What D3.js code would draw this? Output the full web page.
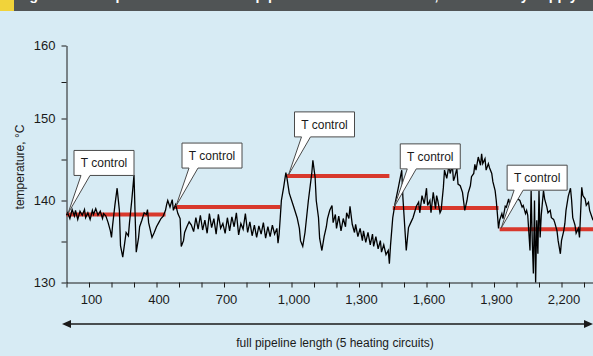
<!DOCTYPE html>
<html>
<head>
<meta charset="utf-8">
<script src="https://cdn.jsdelivr.net/npm/d3@7"></script>
<style>
  body { margin: 0; background: #d7ebf4; }
  svg { display: block; font-family: 'Liberation Sans', Arial, sans-serif; }
</style>
</head>
<body>
<svg id="chart" width="593" height="356"></svg>
<script>
// measured temperature along the pipeline (m, °C)
const distance = [
  0, 5, 15, 25, 35, 40, 50, 60, 70, 80, 85, 95, 105, 115, 120, 130, 140, 150, 160, 165, 175, 185, 195, 200, 205, 215, 225, 235, 240, 250,
  255, 265, 275, 280, 290, 300, 305, 310, 320, 325, 335, 345, 355, 360, 365, 380, 390, 400, 410, 420, 430, 440, 445, 450, 460, 470, 475, 485, 495, 505,
  510, 520, 525, 535, 545, 555, 565, 575, 585, 595, 605, 615, 625, 635, 645, 655, 665, 675, 685, 695, 705, 715, 725, 735, 745, 755, 765, 775, 785, 795,
  805, 815, 825, 835, 845, 855, 865, 875, 885, 895, 905, 915, 925, 935, 940, 945,
  950, 955, 965, 975, 980, 990, 1010, 1025, 1035, 1040, 1050, 1060, 1075, 1090, 1095, 1105, 1110, 1120, 1125, 1135, 1145, 1155, 1160, 1170, 1180, 1185,
  1195, 1200, 1210, 1220, 1230, 1240, 1245, 1255, 1260, 1270, 1280, 1285, 1295, 1305, 1315, 1320, 1330, 1340, 1350, 1360, 1365, 1375, 1385, 1395, 1400,
  1410, 1420, 1430, 1435, 1440, 1450,
  1460, 1475, 1490, 1495, 1510, 1520, 1530, 1540, 1555, 1565, 1570, 1580, 1590, 1600, 1605, 1615, 1620, 1630, 1640, 1645, 1650, 1660, 1665, 1675, 1680,
  1690, 1700, 1705, 1715, 1720, 1725, 1735, 1740, 1750, 1760, 1770, 1780, 1785, 1795, 1800, 1810, 1815, 1820, 1830, 1840, 1845, 1850, 1860, 1865, 1875,
  1880, 1890, 1895, 1905, 1910, 1915, 1920,
  1925, 1935, 1940, 1950, 1955, 1965, 1970, 1980, 1985, 1995, 2000, 2005, 2015, 2025, 2030, 2040, 2045, 2050, 2060, 2065, 2070, 2075, 2080, 2085, 2090,
  2095, 2100, 2105, 2110, 2120, 2125, 2135, 2140, 2150, 2155, 2165, 2170, 2180, 2185, 2195, 2200, 2210, 2215, 2220, 2230, 2240, 2245, 2250, 2260, 2265,
  2275, 2280, 2290, 2295, 2305, 2310, 2320, 2325, 2340
];
const temperature = [
  138.2, 138.5, 137.8, 138.9, 138.1, 138.8, 137.7, 138.7, 138.2, 138.9, 137.9, 138.5, 137.7, 138.8, 138.3, 139.0, 138.2, 138.7, 137.8, 138.4, 138.1, 137.3, 136.3, 135.5, 137.0, 139.4, 141.5, 138.8, 134.5, 133.1,
  134.1, 136.1, 135.7, 137.3, 140.0, 143.1, 138.2, 133.7, 135.4, 136.8, 137.6, 138.5, 138.3, 138.9, 137.3, 135.5, 136.1, 136.8, 137.3, 137.8, 138.1, 138.8, 139.5, 140.0, 139.2, 140.1, 138.8, 139.5, 138.4, 137.8,
  134.4, 135.1, 136.1, 136.8, 137.4, 137.0, 136.2, 137.9, 136.5, 138.2, 136.4, 137.6, 136.0, 138.4, 136.7, 137.8, 135.9, 138.3, 136.6, 137.2, 136.0, 137.9, 136.3, 138.0, 136.8, 138.5, 135.8, 137.2, 136.5, 138.4,
  136.1, 137.4, 135.7, 137.0, 135.5, 136.9, 135.9, 137.3, 135.4, 136.8, 135.6, 137.0, 135.9, 136.6, 134.8, 135.9,
  137.9, 140.0, 141.6, 143.4, 142.7, 140.9, 139.2, 137.9, 136.6, 135.1, 134.4, 136.1, 140.0, 143.3, 144.9, 142.8, 140.0, 137.9, 135.4, 133.9, 135.6, 136.8, 137.8, 138.8, 139.4, 137.3,
  138.3, 136.6, 138.1, 136.3, 137.8, 136.8, 138.5, 137.8, 139.3, 137.1, 136.1, 137.1, 135.6, 136.6, 135.1, 136.3, 134.9, 136.1, 134.6, 135.9, 134.4, 135.6, 134.1, 135.1, 133.7,
  134.6, 133.4, 133.9, 132.3, 134.5, 137.9,
  139.6, 141.6, 143.7, 140.4, 133.9, 136.7, 137.3, 137.9, 139.3, 139.8, 138.5, 140.6, 139.6, 141.5, 139.4, 140.0, 138.5, 141.0, 139.0, 140.6, 140.0, 138.5, 138.8, 141.6, 143.7,
  142.7, 144.3, 143.3, 144.2, 142.4, 142.8, 143.9, 142.0, 141.8, 141.0, 138.8, 140.0, 140.9, 141.8, 142.9, 143.3, 144.4, 143.7, 145.3, 144.3, 145.7, 144.5, 145.1, 143.7, 144.5,
  144.0, 143.3, 142.3, 141.2, 140.0, 138.4, 136.6,
  137.6, 138.4, 137.8, 139.3, 139.2, 140.2, 139.5, 140.0, 140.6, 139.9, 140.9, 140.2, 140.0, 139.2, 139.4, 138.4, 138.8, 138.2, 133.9, 141.2, 135.1, 131.1, 140.0, 130.0, 137.6,
  133.5, 141.2, 135.5, 138.2, 141.2, 140.2, 139.2, 138.5, 138.8, 137.9, 137.7, 137.3, 136.3, 135.1, 133.5, 135.1, 136.3, 137.2, 138.8, 140.5, 141.5, 140.0, 137.9, 137.0, 136.0,
  136.6, 135.5, 141.6, 140.6, 140.2, 139.4, 139.8, 138.8, 137.6
];

// set points of the 5 heating circuits
const setStart = [0, 480, 980, 1450, 1925];
const setEnd = [440, 950, 1435, 1920, 2340];
const setTemp = [138.3, 139.2, 143.0, 139.1, 136.5];
const calloutText = 'T control';

const xTicks = d3.range(0, 2301, 100);
const xLabels = [100, 400, 700, 1000, 1300, 1600, 1900, 2200];
const yTicks = [130, 135, 140, 145, 150, 155, 160];
const yLabels = [130, 140, 150, 160];

// caption sits above the crop, only its descenders show
const title = 'Figure 12: Temperature control of a pipeline heated in sections, measured by supply';

const svg = d3.select('#chart');
const width = +svg.attr('width');

// header strip
svg.append('rect').attr('x', 0).attr('y', 0).attr('width', width).attr('height', 11).attr('fill', '#505455');
svg.append('rect').attr('x', 0).attr('y', 0).attr('width', 14).attr('height', 11).attr('fill', '#f1d33a');
svg.append('text')
  .attr('x', 17).attr('y', 0)
  .attr('fill', '#fff')
  .style('font-size', '14px')
  .style('font-weight', 'bold')
  .text(title);

const x = d3.scaleLinear().domain([0, 2340]).range([66.5, 593]);
// the printed y axis is not quite even above 150
const y = d3.scaleLinear().domain([130, 150, 160]).range([282.5, 118.5, 45.5]);

const xAxis = d3.axisBottom(x)
  .tickValues(xTicks)
  .tickSize(5)
  .tickSizeOuter(0)
  .tickPadding(7)
  .tickFormat(function (d) {
    return xLabels.indexOf(d) >= 0 ? d3.format(',')(d) : '';
  });

const yAxis = d3.axisLeft(y)
  .tickValues(yTicks)
  .tickSize(5)
  .tickSizeOuter(0)
  .tickPadding(6)
  .tickFormat(function (d) {
    return yLabels.indexOf(d) >= 0 ? d : '';
  });

const gx = svg.append('g')
  .attr('transform', 'translate(0,' + y(130) + ')')
  .call(xAxis);
gx.selectAll('text').attr('dx', 2);

const gy = svg.append('g')
  .attr('transform', 'translate(' + x(0) + ',0)')
  .call(yAxis);

svg.selectAll('.domain, .tick line').attr('stroke', '#1a1a1a');
svg.selectAll('.tick text').attr('fill', '#1a1a1a').style('font-size', '13px').style('font-family', 'Liberation Sans, Arial, sans-serif');

// set point lines
const idx = d3.range(setStart.length);
svg.append('g').selectAll('line')
  .data(idx)
  .enter().append('line')
  .attr('x1', function (i) { return x(setStart[i]); })
  .attr('x2', function (i) { return x(setEnd[i]); })
  .attr('y1', function (i) { return y(setTemp[i]); })
  .attr('y2', function (i) { return y(setTemp[i]); })
  .attr('stroke', '#d8382c')
  .attr('stroke-width', 4);

// measured profile
const line = d3.line()
  .x(function (i) { return x(distance[i]); })
  .y(function (i) { return y(temperature[i]); });

svg.append('path')
  .attr('d', line(d3.range(distance.length)))
  .attr('fill', 'none')
  .attr('stroke', '#000')
  .attr('stroke-width', 1.3)
  .attr('stroke-linejoin', 'miter');

// "T control" callouts
const bw = 60, bh = 25;
const callout = svg.append('g').selectAll('g')
  .data(idx)
  .enter().append('g');

callout.append('path')
  .attr('d', function (i) {
    const ax = x(setStart[i]) + 1.5, ay = y(setTemp[i]) - 1;
    const bx = ax + 6, by = ay - 63;
    return 'M' + bx + ',' + by +
      'H' + (bx + bw) + 'V' + (by + bh) +
      'H' + (bx + 16) + 'L' + ax + ',' + ay +
      'L' + (bx + 7) + ',' + (by + bh) +
      'H' + bx + 'Z';
  })
  .attr('fill', '#fff')
  .attr('stroke', '#4a4a4a')
  .attr('stroke-width', 1);

callout.append('text')
  .attr('x', function (i) { return x(setStart[i]) + 1.5 + 6 + bw / 2; })
  .attr('y', function (i) { return y(setTemp[i]) - 1 - 63 + bh / 2; })
  .attr('dy', '0.35em')
  .attr('text-anchor', 'middle')
  .attr('fill', '#1a1a1a')
  .style('font-size', '12px')
  .text(calloutText);

// full length arrow
const ay = 324;
svg.append('line')
  .attr('x1', 66).attr('x2', 588)
  .attr('y1', ay).attr('y2', ay)
  .attr('stroke', '#1a1a1a').attr('stroke-width', 1.5);
svg.append('path')
  .attr('d', 'M62,' + ay + 'L71,' + (ay - 4) + 'L71,' + (ay + 4) + 'Z')
  .attr('fill', '#1a1a1a');
svg.append('path')
  .attr('d', 'M593,' + ay + 'L584,' + (ay - 4) + 'L584,' + (ay + 4) + 'Z')
  .attr('fill', '#1a1a1a');

svg.append('text')
  .attr('x', 335)
  .attr('y', 347)
  .attr('text-anchor', 'middle')
  .attr('fill', '#1a1a1a')
  .style('font-size', '12px')
  .text('full pipeline length (5 heating circuits)');

svg.append('text')
  .attr('transform', 'translate(24,' + 167 + ') rotate(-90)')
  .attr('text-anchor', 'middle')
  .attr('fill', '#1a1a1a')
  .style('font-size', '12px')
  .text('temperature, °C');
</script>
</body>
</html>
